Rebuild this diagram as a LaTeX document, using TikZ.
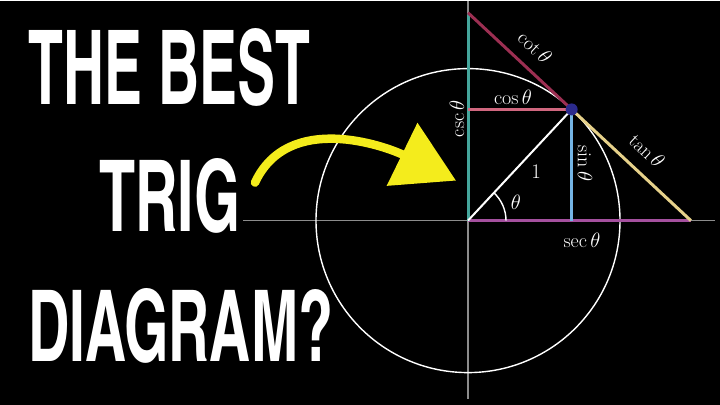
\documentclass[tikz,border=0pt]{standalone}
\usepackage{fontspec}
\usetikzlibrary{calc,arrows.meta}
\newfontfamily\bigfont{texgyreheroscn-bold.otf}
\definecolor{cscteal}{HTML}{45A69C}
\definecolor{cotred}{HTML}{9C2F52}
\definecolor{cospink}{HTML}{D0677F}
\definecolor{sinblue}{HTML}{74B4E4}
\definecolor{tanyellow}{HTML}{E6D18A}
\definecolor{secpurple}{HTML}{A4509E}
\definecolor{dotblue}{HTML}{2B2A8C}
\definecolor{arrowyellow}{HTML}{F4EC1C}
\definecolor{axisgray}{HTML}{8C8C8C}
\tikzset{
  trig/.style={line width=3pt},
  axis/.style={axisgray, line width=1.2pt},
  lbl/.style={text=white, font=\fontsize{20}{24}\selectfont, inner sep=0pt},
  title/.style={text=white, inner sep=0pt, anchor=south west},
}

\begin{document}
\begin{tikzpicture}[x=1pt,y=1pt]
\fill[black] (0,0) rectangle (720,404);
% r = 152, theta = 47 deg
\coordinate (O) at (468,184);
\coordinate (P) at ($(O)+(47:152)$);
\coordinate (Q) at (O |- P);
\coordinate (F) at (P |- O);
\coordinate (S) at ($(O)+({152/cos(47)},0)$);
\coordinate (C) at ($(O)+(0,{152/sin(47)})$);
\coordinate (xl) at (243,184);
\coordinate (xr) at (715,184);
\coordinate (yt) at (468,404);
\coordinate (yb) at (468,6);
\draw[axis] (xl) -- (xr);
\draw[axis] (yb) -- (yt);
\draw[white, line width=1.4pt] (O) circle (152pt);
\draw[trig, secpurple] (O) -- (S);
\draw[trig, cscteal] (O) -- (C);
\draw[trig, cotred] (C) -- (P);
\draw[trig, cospink] (Q) -- (P);
\draw[trig, sinblue] (P) -- (F);
\draw[trig, tanyellow] (P) -- (S);
\draw[white, line width=2pt] (O) -- (P);
\draw[white, line width=1.4pt] ($(O)+(38,0)$) arc (0:47:38pt);
\fill[dotblue] (P) circle (6pt);
\node[lbl, rotate=-43] (cotlbl) at (535,357) {$\cot\theta$};
\node[lbl] (coslbl) at (513,307) {$\cos\theta$};
\node[lbl, rotate=90] (csclbl) at (457,286) {$\csc\theta$};
\node[lbl, rotate=-90] (sinlbl) at (585,241) {$\sin\theta$};
\node[lbl, rotate=-43] (tanlbl) at (647,254) {$\tan\theta$};
\node[lbl] (onelbl) at (536,233) {$1$};
\node[lbl] (thetalbl) at (516,202) {$\theta$};
\node[lbl] (seclbl) at (582,164) {$\sec\theta$};
% title
\node[title] (best) at (28,298) {\resizebox{282pt}{76pt}{\bigfont THE BEST}};
\node[title] (trig) at (99,171) {\resizebox{141pt}{73pt}{\bigfont TRIG}};
\node[title] (diagram) at (28,41) {\resizebox{305pt}{73pt}{\bigfont DIAGRAM?}};
% arrow
\coordinate (arrbeg) at (255,222);
\coordinate (arrtip) at (456,224);
\draw[arrowyellow, line width=8.5pt, line cap=round, -{Triangle[length=60pt,width=68pt]}]
  (arrbeg) to[out=65,in=154] (arrtip);
\end{tikzpicture}
\end{document}
